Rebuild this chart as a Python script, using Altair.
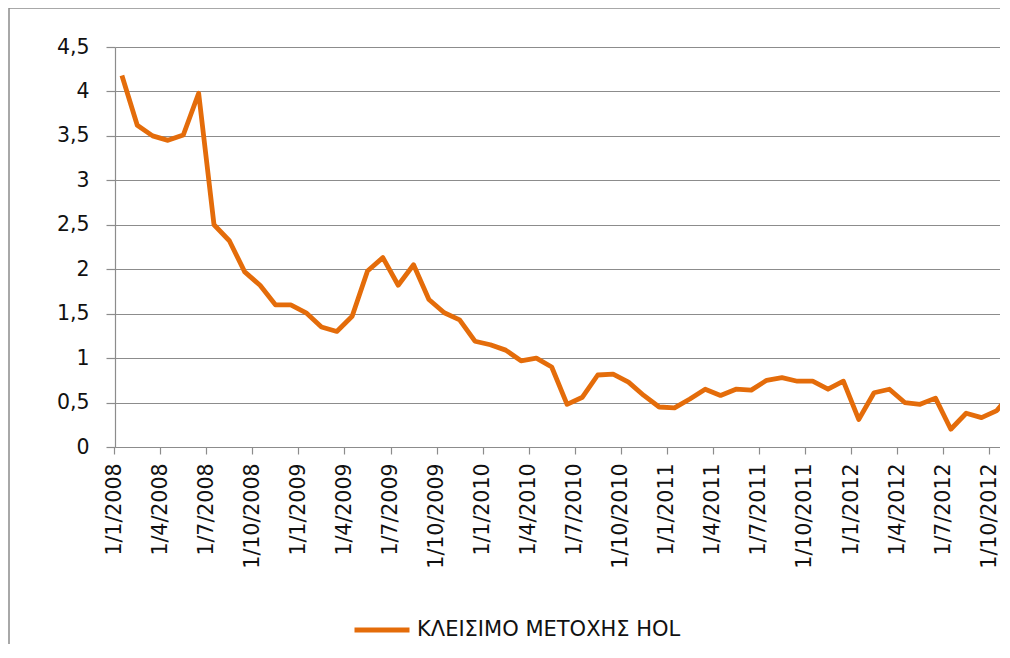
import altair as alt
import pandas as pd

# Category labels (monthly, Excel-style category axis)
months = [f"1/{m}/{y}" for y in range(2008, 2013) for m in range(1, 13)][:59]

# Monthly close values
close = [4.18, 3.62, 3.50, 3.45, 3.51, 3.98, 2.50, 2.32, 1.97, 1.82, 1.60, 1.60,
         1.51, 1.35, 1.30, 1.47, 1.98, 2.13, 1.82, 2.05, 1.66, 1.51, 1.43, 1.19,
         1.15, 1.09, 0.97, 1.00, 0.90, 0.48, 0.56, 0.81, 0.82, 0.73, 0.58, 0.45,
         0.44, 0.54, 0.65, 0.58, 0.65, 0.64, 0.75, 0.78, 0.74, 0.74, 0.65, 0.74,
         0.31, 0.61, 0.65, 0.50, 0.48, 0.55, 0.20, 0.38, 0.33, 0.41, 0.62]

series_name = "ΚΛΕΙΣΙΜΟ ΜΕΤΟΧΗΣ HOL"
tick_labels = months[::3]
tick_index = list(range(0, len(months), 3))
y_ticks = [0, 0.5, 1, 1.5, 2, 2.5, 3, 3.5, 4, 4.5]

df = pd.DataFrame({
    "idx": list(range(len(close))),
    "month": months,
    "close": close,
    "series": [series_name] * len(close),
})

FONT = "DejaVu Sans"
GRAY = "#8c8c8c"
ORANGE = "#E46C0A"
TXT = "#111111"
STEP = 15.35
W, H = 885, 400
FS = 20.5
PAD_BOTTOM = 197

label_js = "[" + ",".join(f"'{t}'" for t in tick_labels) + "]"

x_enc = alt.X(
    "idx:Q",
    scale=alt.Scale(domain=[-0.45, -0.45 + W / STEP], nice=False, zero=False),
    axis=alt.Axis(
        values=tick_index,
        labelExpr=f"{label_js}[round(datum.value / 3)]",
        title=None, grid=False,
        domainColor=GRAY, domainWidth=1.2,
        tickColor=GRAY, tickWidth=1.2, tickSize=7, tickOffset=-STEP / 2,
        labelAngle=-90, labelPadding=9,
        labelFont=FONT, labelFontSize=FS, labelColor=TXT,
    ),
)
y_enc = alt.Y(
    "close:Q",
    scale=alt.Scale(domain=[0, 4.5], nice=False),
    axis=alt.Axis(
        values=y_ticks,
        labelExpr="replace(toString(datum.value), '.', ',')",
        title=None, grid=True, gridColor=GRAY, gridWidth=1.2,
        domainColor=GRAY, domainWidth=1.2,
        tickColor=GRAY, tickWidth=1.2, tickSize=9,
        labelPadding=17, labelFont=FONT, labelFontSize=FS, labelColor=TXT,
    ),
)

line = alt.Chart(df).mark_line(strokeWidth=4.8, clip=True, strokeJoin="round").encode(
    x=x_enc,
    y=y_enc,
    color=alt.Color(
        "series:N",
        scale=alt.Scale(range=[ORANGE]),
        legend=alt.Legend(
            title=None, orient="none", legendX=237, legendY=553,
            symbolType="stroke", symbolSize=3025, symbolStrokeWidth=5,
            labelFont=FONT, labelFontSize=21, labelColor=TXT, labelOffset=5,
            labelLimit=0,
        ),
    ),
)

# outer chart frame (left and top edges visible, the rest cropped as in the reference)
frame_df = pd.DataFrame({"k": [0]})
frame = alt.Chart(frame_df).mark_rect(
    fillOpacity=0, stroke=GRAY, strokeWidth=1.5
).encode(
    x=alt.value(-106), x2=alt.value(W + 60), y=alt.value(-39), y2=alt.value(H + 260)
)

chart = alt.layer(frame, line).properties(
    width=W, height=H,
    autosize=alt.AutoSizeParams(type="none"),
    padding={"left": 107, "top": 39, "right": 0, "bottom": PAD_BOTTOM},
).configure_view(stroke=None)

chart.save("out.html", embed_options={"renderer": "svg", "actions": False})
